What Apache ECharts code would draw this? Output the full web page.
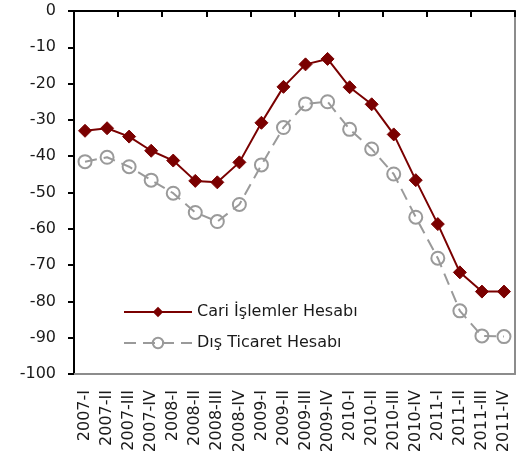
<!DOCTYPE html>
<html>
<head>
<meta charset="utf-8">
<script src="https://cdn.jsdelivr.net/npm/echarts@6/dist/echarts.min.js"></script>
<style>html,body{margin:0;padding:0;background:#fff}#c{width:521px;height:463px}</style>
</head>
<body>
<div id="c"></div>
<script>
var categories = ['2007-I','2007-II','2007-III','2007-IV','2008-I','2008-II','2008-III','2008-IV','2009-I','2009-II','2009-III','2009-IV','2010-I','2010-II','2010-III','2010-IV','2011-I','2011-II','2011-III','2011-IV'];
var cariIslemler = [-33.0,-32.3,-34.6,-38.5,-41.2,-46.8,-47.2,-41.7,-30.8,-20.9,-14.7,-13.2,-21.0,-25.7,-34.0,-46.6,-58.7,-72.0,-77.3,-77.3];
var disTicaret = [-41.5,-40.3,-42.9,-46.6,-50.2,-55.5,-58.0,-53.3,-42.4,-32.1,-25.6,-25.0,-32.6,-38.0,-44.9,-56.8,-68.1,-82.6,-89.5,-89.7];
var yTicks = [0,-10,-20,-30,-40,-50,-60,-70,-80,-90,-100];

var font = 'DejaVu Sans';
var chart = echarts.init(document.getElementById('c'));
chart.setOption({
  animation: false,
  textStyle: {fontFamily: font},
  grid: {left: 74, right: 6, top: 11, bottom: 89, show: false},
  legend: {
    orient: 'vertical', left: 118, top: 299, itemWidth: 68, itemHeight: 13, itemGap: 15,
    textStyle: {fontFamily: font, fontSize: 16, color: '#1a1a1a'},
    data: ['Cari İşlemler Hesabı', 'Dış Ticaret Hesabı']
  },
  xAxis: [{
    type: 'category', data: categories, position: 'bottom', boundaryGap: true,
    axisLine: {show: true, onZero: false, lineStyle: {color: '#8c8c8c', width: 2}}, axisTick: {show: false}, splitLine: {show: false},
    axisLabel: {show: true, interval: 0, rotate: 90, fontFamily: font, fontSize: 16, color: '#1a1a1a', margin: 16}
  }, {
    type: 'category', data: categories, position: 'top', boundaryGap: true,
    axisLine: {show: true, onZero: false, lineStyle: {color: '#000', width: 2}},
    axisTick: {show: true, inside: true, length: 6, interval: 1, lineStyle: {color: '#000', width: 2}},
    axisLabel: {show: false}, splitLine: {show: false}
  }],
  yAxis: [{
    type: 'value', min: -100, max: 0, interval: 10, position: 'left',
    axisLine: {show: true, onZero: false, lineStyle: {color: '#000', width: 2}},
    axisTick: {show: true, length: 6, lineStyle: {color: '#000', width: 2}},
    splitLine: {show: false},
    axisLabel: {fontFamily: font, fontSize: 16, color: '#1a1a1a', margin: 18,
      formatter: function (v) { return yTicks.indexOf(v) >= 0 ? String(v) : ''; }}
  }, {
    type: 'value', min: -100, max: 0, interval: 10, position: 'right',
    axisLine: {show: true, onZero: false, lineStyle: {color: '#8c8c8c', width: 2}},
    axisTick: {show: false}, axisLabel: {show: false}, splitLine: {show: false}
  }],
  series: [{
    name: 'Cari İşlemler Hesabı', type: 'line', data: cariIslemler, xAxisIndex: 0, yAxisIndex: 0,
    symbol: 'diamond', symbolSize: 13, showAllSymbol: true, z: 3,
    lineStyle: {color: '#7a0000', width: 2},
    itemStyle: {color: '#7a0000', borderColor: '#7a0000'}
  }, {
    name: 'Dış Ticaret Hesabı', type: 'line', data: disTicaret, xAxisIndex: 0, yAxisIndex: 0,
    symbol: 'circle', symbolSize: 13, showAllSymbol: true, z: 2,
    lineStyle: {color: '#9a9a9a', width: 2, type: [12, 7]},
    itemStyle: {color: 'rgba(255,255,255,0)', borderColor: '#9a9a9a', borderWidth: 2}
  }]
});
</script>
</body>
</html>
